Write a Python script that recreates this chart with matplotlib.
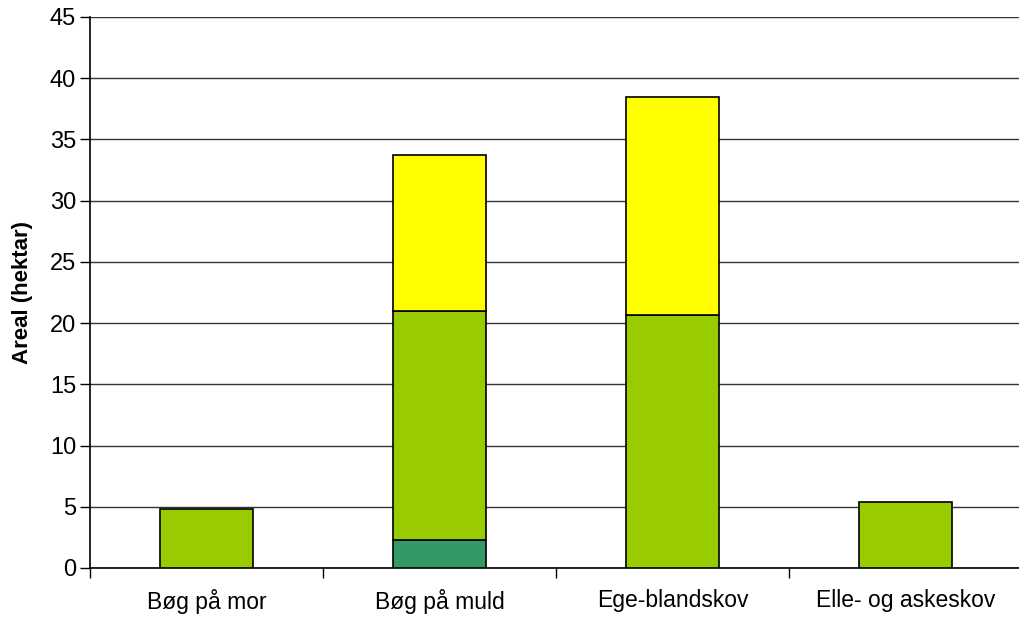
import numpy as np
import matplotlib.pyplot as plt

plt.rcParams["font.family"] = ["Liberation Sans", "DejaVu Sans"]

categories = ["Bøg på mor", "Bøg på muld", "Ege-blandskov", "Elle- og askeskov"]
# stacked layers, bottom to top
dark_green = [0.0, 2.3, 0.0, 0.0]
light_green = [4.8, 18.7, 20.7, 5.4]
yellow = [0.0, 12.7, 17.8, 0.0]

colors = ["#339966", "#99CC00", "#FFFF00"]

fig = plt.figure(figsize=(10.19, 6.21), dpi=100)
ax = fig.add_axes([90 / 1019, 1 - 568 / 621, 932 / 1019, 551 / 621])

x = np.arange(len(categories))
bottom = np.zeros(len(categories))
for vals, c in zip([dark_green, light_green, yellow], colors):
    vals = np.array(vals)
    mask = vals > 0
    ax.bar(x[mask], vals[mask], width=0.4, bottom=bottom[mask], color=c,
           edgecolor="black", linewidth=1.2, zorder=3)
    bottom += vals

ax.set_xlim(-0.5, len(categories) - 0.5)
ax.set_ylim(0, 45)
ax.set_yticks(np.arange(0, 46, 5))
ax.set_xticks(x)
ax.set_xticklabels(categories, fontsize=16.5)
ax.set_xticks(np.arange(-0.5, len(categories), 1), minor=True)
ax.tick_params(axis="x", which="major", length=0, pad=15)
ax.tick_params(axis="x", which="minor", length=7, width=1, direction="out")
ax.tick_params(axis="y", length=7, width=1, labelsize=17, pad=3)

ax.grid(axis="y", color="#333333", linewidth=1, zorder=0)
ax.set_axisbelow(True)
for s in ["top", "right"]:
    ax.spines[s].set_visible(False)
ax.spines["left"].set_linewidth(1.2)
ax.spines["bottom"].set_linewidth(1.2)

ax.set_ylabel("Areal (hektar)", fontsize=16, fontweight="bold", labelpad=12)

plt.savefig("out.png", dpi=100)
